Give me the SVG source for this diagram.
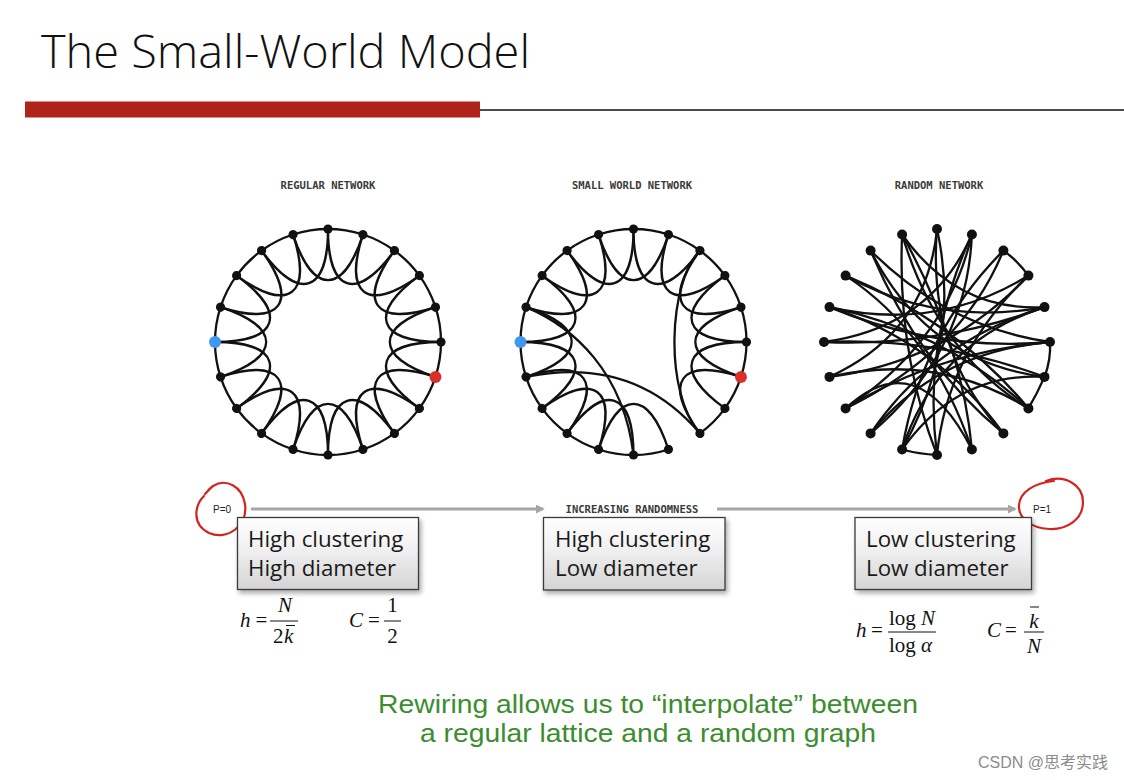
<svg xmlns="http://www.w3.org/2000/svg" xmlns:xlink="http://www.w3.org/1999/xlink" width="1124" height="780" viewBox="0 0 1124 780">
<style>
.lbl{font-family:"DejaVu Sans Mono",monospace;font-size:10.5px;font-weight:bold;fill:#3a3a3a;text-anchor:middle}
.ed{fill:none;stroke:#111;stroke-width:2.3;stroke-linecap:round}
.nd{fill:#111}
.box{fill:url(#bg);stroke:#3a3a3a;stroke-width:1.3;filter:url(#sh)}
.bt{font-family:"Open Sans","Liberation Sans",sans-serif;font-size:22.3px;fill:#1a1a1a}
.mi{font-family:"Liberation Serif",serif;font-style:italic;font-size:21px;fill:#111}
.mr{font-family:"Liberation Serif",serif;font-size:21px;fill:#111}
.fl{stroke:#111;stroke-width:1}
.red{fill:none;stroke:#d0251e;stroke-width:2.2;stroke-linecap:round}
.p{font-family:"Liberation Sans",sans-serif;font-size:10px;fill:#222}
.cap{font-family:"Liberation Sans",Arial,sans-serif;font-size:25.5px;fill:#3c8d2f;text-anchor:middle}
</style>
<defs>
<linearGradient id="bg" x1="0" y1="0" x2="0" y2="1">
<stop offset="0" stop-color="#ffffff"/><stop offset="0.45" stop-color="#f0f0f0"/><stop offset="1" stop-color="#d4d4d4"/>
</linearGradient>
<filter id="sh" x="-10%" y="-10%" width="130%" height="140%">
<feDropShadow dx="2" dy="3" stdDeviation="2.5" flood-color="#000" flood-opacity="0.35"/>
</filter>
<marker id="ah" viewBox="0 0 10 10" refX="8" refY="5" markerWidth="3" markerHeight="3" orient="auto">
<path d="M0,0 L10,5 L0,10 z" fill="#a6a6a6"/>
</marker>
<path id="arc" d="M0,-113 A113,113 0 0 1 34.92,-107.47"/>
<path id="pet" d="M0,-113 C0,-49 28.8,-39.64 66.42,-91.42"/>
<circle id="dot" cx="0" cy="-113" r="4.6"/>
</defs>

<rect width="1124" height="780" fill="#ffffff"/>

<g id="title">
<text x="41" y="68" font-family="'Open Sans','Liberation Sans',sans-serif" font-weight="300" font-size="46" fill="#111" textLength="489" lengthAdjust="spacingAndGlyphs">The Small-World Model</text>
<rect x="25" y="101.5" width="455" height="16" fill="#b0231b"/>
<line x1="480" y1="110" x2="1124" y2="110" stroke="#111" stroke-width="1.5"/>
</g>

<g id="regular-network">
<text class="lbl" x="328" y="189">REGULAR NETWORK</text>
<g transform="translate(328,342)">
<g class="ed">
<use href="#arc"/><use href="#arc" transform="rotate(18)"/><use href="#arc" transform="rotate(36)"/><use href="#arc" transform="rotate(54)"/><use href="#arc" transform="rotate(72)"/><use href="#arc" transform="rotate(90)"/><use href="#arc" transform="rotate(108)"/><use href="#arc" transform="rotate(126)"/><use href="#arc" transform="rotate(144)"/><use href="#arc" transform="rotate(162)"/><use href="#arc" transform="rotate(180)"/><use href="#arc" transform="rotate(198)"/><use href="#arc" transform="rotate(216)"/><use href="#arc" transform="rotate(234)"/><use href="#arc" transform="rotate(252)"/><use href="#arc" transform="rotate(270)"/><use href="#arc" transform="rotate(288)"/><use href="#arc" transform="rotate(306)"/><use href="#arc" transform="rotate(324)"/><use href="#arc" transform="rotate(342)"/>
<use href="#pet"/><use href="#pet" transform="rotate(18)"/><use href="#pet" transform="rotate(36)"/><use href="#pet" transform="rotate(54)"/><use href="#pet" transform="rotate(72)"/><use href="#pet" transform="rotate(90)"/><use href="#pet" transform="rotate(108)"/><use href="#pet" transform="rotate(126)"/><use href="#pet" transform="rotate(144)"/><use href="#pet" transform="rotate(162)"/><use href="#pet" transform="rotate(180)"/><use href="#pet" transform="rotate(198)"/><use href="#pet" transform="rotate(216)"/><use href="#pet" transform="rotate(234)"/><use href="#pet" transform="rotate(252)"/><use href="#pet" transform="rotate(270)"/><use href="#pet" transform="rotate(288)"/><use href="#pet" transform="rotate(306)"/><use href="#pet" transform="rotate(324)"/><use href="#pet" transform="rotate(342)"/>
</g>
<g class="nd">
<use href="#dot"/><use href="#dot" transform="rotate(18)"/><use href="#dot" transform="rotate(36)"/><use href="#dot" transform="rotate(54)"/><use href="#dot" transform="rotate(72)"/><use href="#dot" transform="rotate(90)"/><use href="#dot" transform="rotate(126)"/><use href="#dot" transform="rotate(144)"/><use href="#dot" transform="rotate(162)"/><use href="#dot" transform="rotate(180)"/><use href="#dot" transform="rotate(198)"/><use href="#dot" transform="rotate(216)"/><use href="#dot" transform="rotate(234)"/><use href="#dot" transform="rotate(252)"/><use href="#dot" transform="rotate(288)"/><use href="#dot" transform="rotate(306)"/><use href="#dot" transform="rotate(324)"/><use href="#dot" transform="rotate(342)"/>
</g>
<circle cx="-113" cy="0" r="6" fill="#3f98f0"/>
<circle cx="107.47" cy="34.92" r="6" fill="#d9302a"/>
</g>
</g>

<g id="small-world-network">
<text class="lbl" x="632" y="189">SMALL WORLD NETWORK</text>
<g transform="translate(633.5,342)">
<g class="ed">
<use href="#arc"/><use href="#arc" transform="rotate(18)"/><use href="#arc" transform="rotate(36)"/><use href="#arc" transform="rotate(54)"/><use href="#arc" transform="rotate(72)"/><use href="#arc" transform="rotate(90)"/><use href="#arc" transform="rotate(108)"/><use href="#arc" transform="rotate(126)"/><use href="#arc" transform="rotate(162)"/><use href="#arc" transform="rotate(180)"/><use href="#arc" transform="rotate(198)"/><use href="#arc" transform="rotate(216)"/><use href="#arc" transform="rotate(234)"/><use href="#arc" transform="rotate(252)"/><use href="#arc" transform="rotate(270)"/><use href="#arc" transform="rotate(288)"/><use href="#arc" transform="rotate(306)"/><use href="#arc" transform="rotate(324)"/><use href="#arc" transform="rotate(342)"/>
<use href="#pet"/><use href="#pet" transform="rotate(18)"/><use href="#pet" transform="rotate(36)"/><use href="#pet" transform="rotate(54)"/><use href="#pet" transform="rotate(72)"/><use href="#pet" transform="rotate(90)"/><use href="#pet" transform="rotate(108)"/><use href="#pet" transform="rotate(162)"/><use href="#pet" transform="rotate(180)"/><use href="#pet" transform="rotate(198)"/><use href="#pet" transform="rotate(216)"/><use href="#pet" transform="rotate(234)"/><use href="#pet" transform="rotate(252)"/><use href="#pet" transform="rotate(270)"/><use href="#pet" transform="rotate(288)"/><use href="#pet" transform="rotate(306)"/><use href="#pet" transform="rotate(324)"/><use href="#pet" transform="rotate(342)"/>
<path d="M66.42,-91.42 C35,-60 30,50 66.42,91.42"/>
<path d="M-107.47,34.92 Q0,13 66.42,91.42"/>
<path d="M-107.47,-34.92 C-60,-15 -10,30 0,113"/>
</g>
<g class="nd">
<use href="#dot"/><use href="#dot" transform="rotate(18)"/><use href="#dot" transform="rotate(36)"/><use href="#dot" transform="rotate(54)"/><use href="#dot" transform="rotate(72)"/><use href="#dot" transform="rotate(90)"/><use href="#dot" transform="rotate(126)"/><use href="#dot" transform="rotate(144)"/><use href="#dot" transform="rotate(162)"/><use href="#dot" transform="rotate(180)"/><use href="#dot" transform="rotate(198)"/><use href="#dot" transform="rotate(216)"/><use href="#dot" transform="rotate(234)"/><use href="#dot" transform="rotate(252)"/><use href="#dot" transform="rotate(288)"/><use href="#dot" transform="rotate(306)"/><use href="#dot" transform="rotate(324)"/><use href="#dot" transform="rotate(342)"/>
</g>
<circle cx="-113" cy="0" r="6" fill="#3f98f0"/>
<circle cx="107.47" cy="34.92" r="6" fill="#d9302a"/>
</g>
</g>

<g id="random-network">
<text class="lbl" x="939" y="189">RANDOM NETWORK</text>
<g transform="translate(937,342)">
<g class="ed" stroke-width="2.5">
<path d="M0,-113 Q25,0 -34.9,107.5"/>
<path d="M0,-113 Q-10,10 66.4,91.4"/>
<path d="M0,-113 Q-10,-10 -107.5,34.9"/>
<path d="M34.9,-107.5 Q30,10 -66.4,91.4"/>
<path d="M34.9,-107.5 Q-5,-15 -113,0"/>
<path d="M34.9,-107.5 Q10,0 -91.4,66.4"/>
<path d="M34.9,-107.5 Q-15,0 0,113"/>
<path d="M66.4,-91.4 Q80,-82 91.4,-66.4"/>
<path d="M66.4,-91.4 Q25,10 -91.4,66.4"/>
<path d="M66.4,-91.4 Q-15,-10 -34.9,107.5"/>
<path d="M91.4,-66.4 Q0,-10 -107.5,-34.9"/>
<path d="M91.4,-66.4 Q10,20 -107.5,34.9"/>
<path d="M91.4,-66.4 Q10,10 0,113"/>
<path d="M107.5,-34.9 Q0,-15 -91.4,-66.4"/>
<path d="M107.5,-34.9 Q0,5 -113,0"/>
<path d="M107.5,-34.9 Q-5,0 -66.4,91.4"/>
<path d="M113,0 Q114,18 107.5,34.9"/>
<path d="M113,0 Q0,10 -107.5,-34.9"/>
<path d="M113,0 Q0,10 -91.4,66.4"/>
<path d="M107.5,34.9 Q100,52 91.4,66.4"/>
<path d="M107.5,34.9 Q-10,20 -66.4,-91.4"/>
<path d="M107.5,34.9 Q0,-5 -113,0"/>
<path d="M91.4,66.4 Q20,-20 -91.4,-66.4"/>
<path d="M91.4,66.4 Q0,10 -34.9,-107.5"/>
<path d="M66.4,91.4 Q-20,20 -66.4,-91.4"/>
<path d="M66.4,91.4 Q0,0 -107.5,-34.9"/>
<path d="M34.9,107.5 Q25,0 -34.9,-107.5"/>
<path d="M34.9,107.5 Q-5,-10 -91.4,-66.4"/>
<path d="M0,113 Q-18,112 -34.9,107.5"/>
<path d="M0,113 Q-40,10 -34.9,-107.5"/>
<path d="M-34.9,107.5 Q0,0 107.5,-34.9"/>
<path d="M-66.4,91.4 Q0,10 113,0"/>
<path d="M-107.5,34.9 Q0,10 91.4,66.4"/>
<path d="M-34.9,-107.5 Q20,-30 107.5,-34.9"/>
<path d="M-66.4,-91.4 Q10,-15 113,0"/>
<path d="M-107.5,-34.9 Q10,-10 91.4,66.4"/>
<path d="M-34.9,107.5 Q20,30 107.5,34.9"/>
<path d="M-91.4,66.4 Q-20,0 34.9,107.5"/>
</g>
<g class="nd">
<circle cx="0" cy="-113" r="5"/><circle cx="34.9" cy="-107.5" r="5"/><circle cx="66.4" cy="-91.4" r="5"/><circle cx="91.4" cy="-66.4" r="5"/><circle cx="107.5" cy="-34.9" r="5"/><circle cx="113" cy="0" r="5"/><circle cx="107.5" cy="34.9" r="5"/><circle cx="91.4" cy="66.4" r="5"/><circle cx="66.4" cy="91.4" r="5"/><circle cx="34.9" cy="107.5" r="5"/><circle cx="0" cy="113" r="5"/><circle cx="-34.9" cy="107.5" r="5"/><circle cx="-66.4" cy="91.4" r="5"/><circle cx="-91.4" cy="66.4" r="5"/><circle cx="-107.5" cy="34.9" r="5"/><circle cx="-113" cy="0" r="5"/><circle cx="-107.5" cy="-34.9" r="5"/><circle cx="-91.4" cy="-66.4" r="5"/><circle cx="-66.4" cy="-91.4" r="5"/><circle cx="-34.9" cy="-107.5" r="5"/>
</g>
</g>
</g>

<g id="connectors">
<line x1="251" y1="509" x2="543" y2="509" stroke="#a6a6a6" stroke-width="3" marker-end="url(#ah)"/>
<line x1="717" y1="509" x2="1015" y2="509" stroke="#a6a6a6" stroke-width="3" marker-end="url(#ah)"/>
</g>

<g id="randomness-label">
<text class="lbl" x="632" y="513" font-size="10px">INCREASING RANDOMNESS</text>
</g>

<g id="p0">
<text class="p" x="213" y="513">P=0</text>
<path class="red" d="M204,496 C195,505 191,524 209,533 C227,541 248,526 245,504 C242,486 226,478 213,486 C209,489 207,492 205,494"/>
</g>
<g id="p1">
<text class="p" x="1033" y="513">P=1</text>
<path class="red" d="M1046,481 C1065,474 1083,485 1083,502 C1083,520 1066,530 1049,529 C1031,528 1018,518 1019,505 C1020,492 1034,483 1054,481"/>
</g>

<g id="box-regular">
<rect class="box" x="237.5" y="517.5" width="181" height="72"/>
<text class="bt" x="248" y="547">High clustering</text>
<text class="bt" x="248" y="576">High diameter</text>
</g>
<g id="box-small-world">
<rect class="box" x="543.5" y="517.5" width="181.5" height="72.5"/>
<text class="bt" x="555" y="547">High clustering</text>
<text class="bt" x="555" y="576">Low diameter</text>
</g>
<g id="box-random">
<rect class="box" x="855" y="517.5" width="176.5" height="72"/>
<text class="bt" x="866" y="547">Low clustering</text>
<text class="bt" x="866" y="576">Low diameter</text>
</g>

<g id="formula-regular">
<text class="mi" x="240" y="627">h</text>
<text class="mr" x="255.5" y="627">=</text>
<line class="fl" x1="270" y1="621" x2="298" y2="621"/>
<text class="mi" x="285" y="612" text-anchor="middle">N</text>
<text class="mr" x="273" y="643">2</text>
<text class="mi" x="284" y="643">k</text>
<line class="fl" x1="286" y1="625.5" x2="295" y2="625.5"/>
<text class="mi" x="349" y="627">C</text>
<text class="mr" x="368" y="627">=</text>
<line class="fl" x1="384" y1="621" x2="401" y2="621"/>
<text class="mr" x="392.5" y="612" text-anchor="middle">1</text>
<text class="mr" x="392.5" y="643" text-anchor="middle">2</text>
</g>

<g id="formula-random">
<text class="mi" x="856" y="637">h</text>
<text class="mr" x="871" y="637">=</text>
<line class="fl" x1="888" y1="632" x2="936" y2="632"/>
<text class="mr" x="889" y="625">log <tspan font-style="italic">N</tspan></text>
<text class="mr" x="889" y="652">log <tspan font-style="italic">α</tspan></text>
<text class="mi" x="987" y="637">C</text>
<text class="mr" x="1005" y="637">=</text>
<line class="fl" x1="1024" y1="632" x2="1044" y2="632"/>
<text class="mi" x="1034" y="628" text-anchor="middle">k</text>
<line class="fl" x1="1030" y1="607" x2="1039" y2="607"/>
<text class="mi" x="1034" y="653" text-anchor="middle">N</text>
</g>

<g id="caption">
<text class="cap" x="648" y="713" textLength="540" lengthAdjust="spacingAndGlyphs">Rewiring allows us to “interpolate” between</text>
<text class="cap" x="648" y="741.5" textLength="456" lengthAdjust="spacingAndGlyphs">a regular lattice and a random graph</text>
</g>

<g id="watermark">
<text x="1108" y="768" text-anchor="end" font-family="'Liberation Sans','Noto Sans CJK SC',sans-serif" font-size="16" fill="#8c8c8c">CSDN @思考实践</text>
</g>
</svg>
